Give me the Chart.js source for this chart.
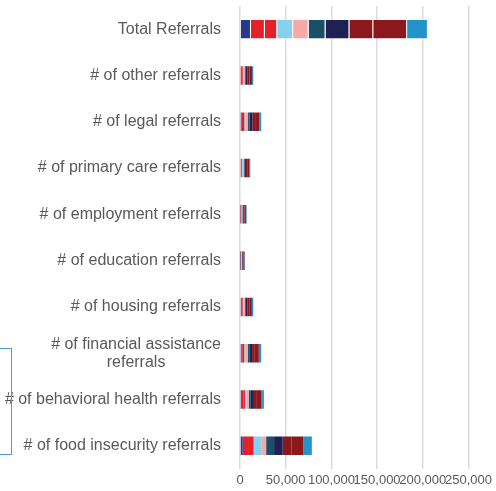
<!DOCTYPE html>
<html>
<head>
<meta charset="utf-8">
<script src="https://cdn.jsdelivr.net/npm/chart.js@4/dist/chart.umd.min.js"></script>
<style>
  html, body { margin: 0; padding: 0; background: #fff; }
  #wrap { width: 496px; height: 491px; position: relative; }
</style>
</head>
<body>
<div id="wrap"><canvas id="referralChart"></canvas></div>
<script>
// categories, top to bottom
const categories = [
  "Total Referrals",
  "# of other referrals",
  "# of legal referrals",
  "# of primary care referrals",
  "# of employment referrals",
  "# of education referrals",
  "# of housing referrals",
  ["# of financial assistance", "referrals"],
  "# of behavioral health referrals",
  "# of food insecurity referrals",
];

const xTicks = [0, 50000, 100000, 150000, 200000, 250000];

// one array per stacked series, values follow the category order above
const series1 = [12000, 800, 1500, 800, 500, 400, 1000, 1600, 1900, 2900];
const series2 = [15200, 1200, 1800, 700, 450, 350, 1000, 1500, 1700, 6900];
const series3 = [13500, 1000, 1400, 750, 500, 350, 950, 1500, 1800, 5100];
const series4 = [17400, 700, 1600, 800, 500, 400, 1000, 1700, 2100, 8300];
const series5 = [17000, 1300, 2500, 1000, 650, 500, 1300, 2100, 2300, 5400];
const series6 = [18500, 1100, 1600, 900, 550, 400, 1100, 1800, 2000, 8700];
const series7 = [26100, 2200, 3100, 1500, 950, 700, 1900, 3000, 3400, 9400];
const series8 = [26100, 2000, 3000, 1400, 950, 700, 1900, 3000, 3300, 9800];
const series9 = [37000, 2900, 4600, 2200, 1400, 1050, 2800, 4400, 5000, 12700];
const series10 = [22800, 1300, 2100, 1200, 800, 550, 1550, 2600, 2600, 9400];

const seriesValues = [series1, series2, series3, series4, series5, series6, series7, series8, series9, series10];
const seriesColors = ["#28388f", "#e4202a", "#e4202a", "#88d0f0", "#f5aaa7", "#1a4f69", "#1e2152", "#8b181d", "#8b181d", "#2394c9"];

const textColor = "#595959";
const fontFamily = '"Liberation Sans", Arial, sans-serif';

// y labels are drawn by hand so wrapped lines stay centered on each other
const categoryLabels = {
  id: "categoryLabels",
  afterDraw(chart) {
    const ctx = chart.ctx;
    const yScale = chart.scales.y;
    ctx.save();
    ctx.font = "16px " + fontFamily;
    ctx.fillStyle = textColor;
    ctx.textAlign = "center";
    ctx.textBaseline = "middle";
    categories.forEach((label, i) => {
      const lines = Array.isArray(label) ? label : [label];
      const widest = Math.max(...lines.map((l) => ctx.measureText(l).width));
      const cx = yScale.right - 19 - widest / 2;
      const cy = yScale.getPixelForValue(i);
      lines.forEach((line, j) => {
        ctx.fillText(line, cx, cy + (j - (lines.length - 1) / 2) * 18);
      });
    });

    // leftover frame at the left edge
    ctx.strokeStyle = "#4a9fd1";
    ctx.lineWidth = 1;
    ctx.strokeRect(-20.5, 348.5, 32, 106);
    ctx.restore();
  },
};

const ctx = document.getElementById("referralChart").getContext("2d");

new Chart(ctx, {
  type: "bar",
  data: {
    labels: categories.map((c) => (Array.isArray(c) ? c.join(" ") : c)),
    datasets: seriesValues.map((values, i) => ({
      label: "Series " + (i + 1),
      data: values,
      backgroundColor: seriesColors[i],
      // thin divider only on the wide total bar
      borderColor: "rgba(255,255,255,0.3)",
      borderWidth: (c) => (c.dataIndex === 0 ? { top: 0, right: 1, bottom: 0, left: 0 } : 0),
      categoryPercentage: 0.8,
      barPercentage: 0.5,
    })),
  },
  options: {
    indexAxis: "y",
    responsive: true,
    maintainAspectRatio: false,
    animation: false,
    layout: { padding: { top: 6, right: 26, bottom: 0, left: 0 } },
    plugins: {
      legend: { display: false },
      tooltip: { enabled: false },
    },
    scales: {
      x: {
        stacked: true,
        min: 0,
        max: 250000,
        afterBuildTicks: (scale) => {
          scale.ticks = xTicks.map((v) => ({ value: v }));
        },
        afterFit: (scale) => {
          scale.height = 22;
        },
        grid: { color: "#dcdcdc", lineWidth: 1.5, drawTicks: false },
        border: { display: false },
        ticks: {
          autoSkip: false,
          maxRotation: 0,
          minRotation: 0,
          padding: 4,
          color: textColor,
          font: { family: fontFamily, size: 13 },
          callback: (v) => v.toLocaleString("en-US"),
        },
      },
      y: {
        stacked: true,
        afterFit: (scale) => {
          scale.width = 240;
        },
        grid: { display: false },
        border: { display: false },
        ticks: { display: false },
      },
    },
  },
  plugins: [categoryLabels],
});
</script>
</body>
</html>
